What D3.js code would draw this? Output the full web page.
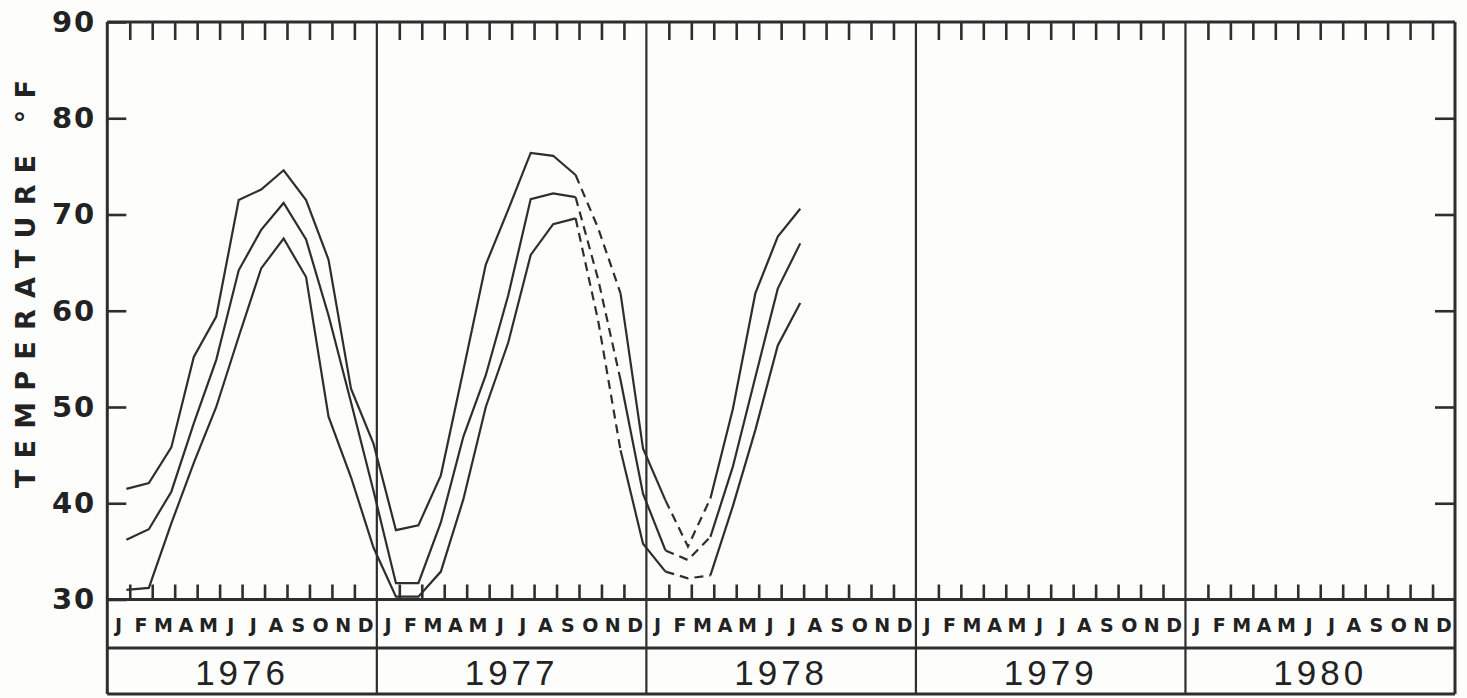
<!DOCTYPE html>
<html>
<head>
<meta charset="utf-8">
<script src="https://cdn.jsdelivr.net/npm/d3@7"></script>
<style>
  html, body { margin: 0; padding: 0; background: #fdfdfc; }
  svg { display: block; }
</style>
</head>
<body>
<svg id="chart" width="1467" height="698"></svg>
<script>
// ---------------- DATA ----------------
const years = ["1976", "1977", "1978", "1979", "1980"];
const monthLabels = ["J", "F", "M", "A", "M", "J", "J", "A", "S", "O", "N", "D"];
const yTickValues = [30, 40, 50, 60, 70, 80, 90];
const yAxisTitle = "TEMPERATURE °F";

// monthly values, Jan 1976 .. Jul 1978
const upperTemps = [41.5, 42.1, 45.8, 55.2, 59.4, 71.5, 72.6, 74.6, 71.5, 65.3, 51.9, 46.2,
                    37.2, 37.7, 42.9, 53.8, 64.8, 70.5, 76.4, 76.1, 74.1, 68.6, 61.8, 45.7,
                    40.3, 35.5, 40.5, 49.8, 61.8, 67.7, 70.6];
const meanTemps  = [36.2, 37.3, 41.2, 48.3, 54.9, 64.2, 68.4, 71.2, 67.4, 59.5, 50.5, 41.3,
                    31.7, 31.7, 38.0, 46.9, 53.3, 61.6, 71.6, 72.2, 71.8, 63.3, 52.8, 41.0,
                    35.1, 34.1, 36.5, 43.8, 53.1, 62.3, 67.0];
const lowerTemps = [31.0, 31.2, 37.9, 44.2, 50.0, 57.3, 64.4, 67.5, 63.5, 49.0, 42.7, 35.4,
                    30.3, 30.3, 32.9, 40.4, 50.0, 56.7, 65.8, 69.0, 69.6, 59.0, 45.5, 35.8,
                    32.9, 32.2, 32.5, 39.7, 47.6, 56.4, 60.8];
// index ranges (inclusive) drawn solid / dashed
const solidRanges  = [[0, 20], [22, 24], [26, 30]];
const dashedRanges = [[20, 22], [24, 26]];

// ---------------- LAYOUT ----------------
const plotL = 107.3, plotR = 1455, plotT = 22, plotB = 599.5;
const monthRowBottom = 648, tableBottom = 694;
const ink = "#2e2e2e";

const svg = d3.select("#chart");
const x = d3.scaleLinear().domain([0, years.length * 12]).range([plotL, plotR]);
const y = d3.scaleLinear().domain([30, 90]).range([plotB, plotT]);
const pointOffset = 0.85;

// month boundary ticks (excluding year boundaries)
const monthBounds = d3.range(1, years.length * 12).filter(m => m % 12 !== 0);

// top ticks hanging down
svg.append("g")
  .attr("transform", `translate(0,${plotT})`)
  .call(d3.axisBottom(x).tickValues(monthBounds).tickSize(18).tickFormat(""))
  .call(g => g.select(".domain").remove())
  .call(g => g.selectAll("line").attr("stroke", ink).attr("stroke-width", 2.6));

// bottom ticks pointing up
svg.append("g")
  .attr("transform", `translate(0,${plotB})`)
  .call(d3.axisTop(x).tickValues(monthBounds).tickSize(15).tickFormat(""))
  .call(g => g.select(".domain").remove())
  .call(g => g.selectAll("line").attr("stroke", ink).attr("stroke-width", 2.6));

// left axis: inward ticks, labels outside
svg.append("g")
  .attr("transform", `translate(${plotL},0)`)
  .call(d3.axisLeft(y).tickValues(yTickValues).tickSizeInner(-19).tickSizeOuter(0).tickPadding(11))
  .call(g => g.select(".domain").remove())
  .call(g => g.selectAll("line").attr("stroke", ink).attr("stroke-width", 2.6))
  .call(g => g.selectAll("text")
      .attr("fill", "#222")
      .attr("font-family", "DejaVu Sans, sans-serif")
      .attr("font-weight", "bold")
      .attr("font-size", 29)
      .attr("letter-spacing", 2));

// right axis: inward ticks only
svg.append("g")
  .attr("transform", `translate(${plotR},0)`)
  .call(d3.axisRight(y).tickValues(yTickValues.slice(1, -1)).tickSizeInner(-20).tickSizeOuter(0).tickFormat(""))
  .call(g => g.select(".domain").remove())
  .call(g => g.selectAll("line").attr("stroke", ink).attr("stroke-width", 2.6));

// frame
const frame = svg.append("g").attr("stroke", ink).attr("fill", "none");
[plotT, plotB, monthRowBottom, tableBottom].forEach(yy => {
  frame.append("line").attr("x1", plotL).attr("x2", plotR).attr("y1", yy).attr("y2", yy).attr("stroke-width", 3);
});
// year dividers + outer verticals
d3.range(0, years.length + 1).forEach(k => {
  frame.append("line")
    .attr("x1", x(k * 12)).attr("x2", x(k * 12))
    .attr("y1", plotT).attr("y2", tableBottom)
    .attr("stroke-width", k === 0 || k === years.length ? 3 : 2.2);
});

// month labels
const monthData = d3.range(0, years.length * 12).map(i => ({ i, label: monthLabels[i % 12] }));
svg.append("g").selectAll("text").data(monthData).join("text")
  .attr("x", d => x(d.i + 0.5))
  .attr("y", 625)
  .attr("text-anchor", "middle")
  .attr("dominant-baseline", "central")
  .attr("font-family", "DejaVu Sans, sans-serif")
  .attr("font-weight", "bold")
  .attr("font-size", 19)
  .attr("fill", "#222")
  .text(d => d.label);

// year labels
svg.append("g").selectAll("text").data(years).join("text")
  .attr("x", (d, k) => x(k * 12 + 6))
  .attr("y", 672)
  .attr("text-anchor", "middle")
  .attr("dominant-baseline", "central")
  .attr("font-family", "Liberation Sans, Arial, sans-serif")
  .attr("font-size", 35)
  .attr("letter-spacing", 4)
  .attr("fill", "#222")
  .text(d => d);

// y axis title
svg.append("text")
  .attr("transform", "translate(25,284) rotate(-90)")
  .attr("text-anchor", "middle")
  .attr("dominant-baseline", "central")
  .attr("font-family", "DejaVu Sans, sans-serif")
  .attr("font-weight", "bold")
  .attr("font-size", 27)
  .attr("fill", "#222")
  .attr("textLength", 408)
  .attr("lengthAdjust", "spacing")
  .text(yAxisTitle);

// data lines
const line = d3.line()
  .x(d => x(d.i + pointOffset))
  .y(d => y(d.v));
const series = [upperTemps, meanTemps, lowerTemps];
const lines = svg.append("g").attr("fill", "none").attr("stroke", ink).attr("stroke-width", 2.2)
  .attr("stroke-linejoin", "miter");
series.forEach(vals => {
  const pts = vals.map((v, i) => ({ i, v }));
  solidRanges.forEach(([a, b]) => {
    lines.append("path").attr("d", line(pts.slice(a, b + 1)));
  });
  dashedRanges.forEach(([a, b]) => {
    lines.append("path").attr("d", line(pts.slice(a, b + 1)))
      .attr("stroke-dasharray", "9,6");
  });
});
</script>
</body>
</html>
